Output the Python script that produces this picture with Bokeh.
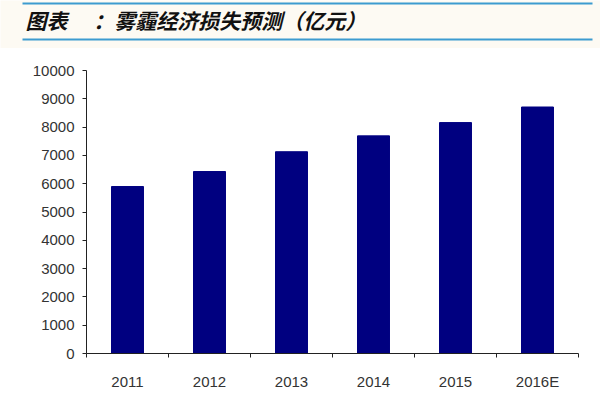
from bokeh.plotting import figure
from bokeh.layouts import column
from bokeh.models import Range1d, FixedTicker, ColumnDataSource
from bokeh.core.properties import value
from bokeh.embed import file_html
from bokeh.resources import INLINE

# ---- data ----
years = ["2011", "2012", "2013", "2014", "2015", "2016E"]
losses = [5900, 6430, 7130, 7690, 8160, 8710]
y_ticks = [0, 1000, 2000, 3000, 4000, 5000, 6000, 7000, 8000, 9000, 10000]
title_text = "图表\u3000 ：雾霾经济损失预测（亿元）"

W = 600
HEADER_H = 48
MAIN_H = 352

# ---- header ----
h = figure(width=W, height=HEADER_H, x_range=Range1d(0, W), y_range=Range1d(HEADER_H, 0),
           x_axis_type=None, y_axis_type=None, toolbar_location=None,
           output_backend="svg", min_border=0, outline_line_color=None,
           frame_align=False)
h.background_fill_color = "#fdfaf3"
h.border_fill_color = "#fdfaf3"
h.segment(x0=[22, 22], y0=[3, 39], x1=[592, 592], y1=[3, 39],
          line_color="#3d9bd0", line_width=2)
h.text(x=[25], y=[19], text=[title_text], text_font=value("Noto Sans CJK SC"),
       text_font_size="21px", text_font_style="bold italic", text_color="#111111",
       text_baseline="middle", text_align="left")

# ---- main chart ----
idx = list(range(len(years)))
src = ColumnDataSource(dict(x=idx, top=losses))

p = figure(width=W, height=MAIN_H, x_range=Range1d(-0.5, len(years) - 0.5),
           y_range=Range1d(0, 10000), toolbar_location=None, output_backend="svg",
           min_border_left=86, min_border_right=22, min_border_top=22,
           min_border_bottom=47, outline_line_color=None, frame_align=False)
p.border_fill_color = "white"
p.background_fill_color = "white"
p.xgrid.visible = False
p.ygrid.visible = False

p.vbar(x="x", top="top", width=0.39, bottom=0, source=src,
       fill_color="#000080", line_color="#000080")

xa = p.xaxis[0]
xa.ticker = FixedTicker(ticks=idx, minor_ticks=[i - 0.5 for i in range(len(years) + 1)])
xa.major_label_overrides = {i: y for i, y in zip(idx, years)}
xa.major_tick_line_color = None
xa.minor_tick_line_color = "#222222"
xa.minor_tick_out = 4
xa.minor_tick_in = 0
xa.axis_line_color = "#222222"
xa.major_label_text_font = "Liberation Sans"
xa.major_label_text_font_size = "15px"
xa.major_label_text_color = "#333333"
xa.major_label_standoff = 13

ya = p.yaxis[0]
ya.ticker = FixedTicker(ticks=y_ticks, minor_ticks=[])
ya.major_tick_out = 4
ya.major_tick_in = 0
ya.major_tick_line_color = "#222222"
ya.axis_line_color = "#222222"
ya.major_label_text_font = "Liberation Sans"
ya.major_label_text_font_size = "15px"
ya.major_label_text_color = "#333333"
ya.major_label_standoff = 8

layout = column(h, p, spacing=0)

with open("out.html", "w") as f:
    f.write(file_html(layout, INLINE))
